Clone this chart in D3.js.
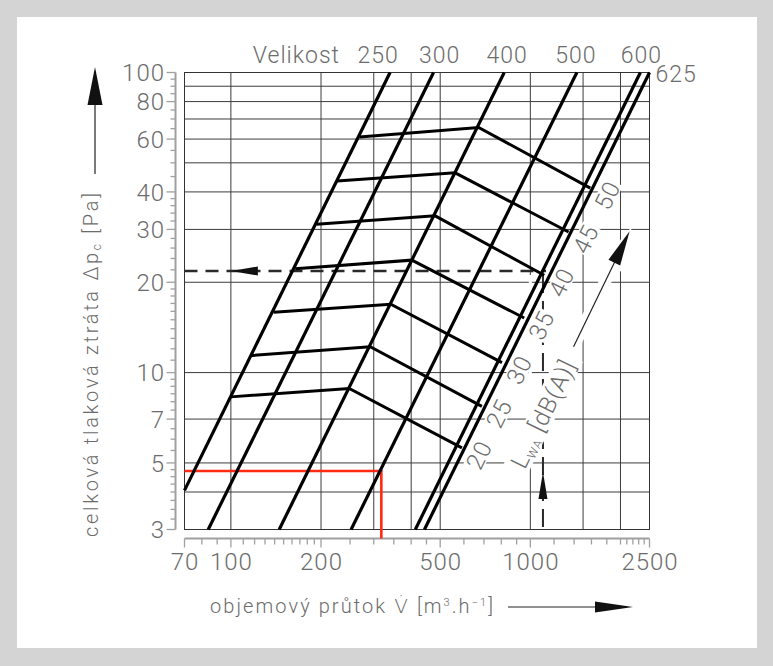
<!DOCTYPE html>
<html>
<head>
<meta charset="utf-8">
<script src="https://cdn.jsdelivr.net/npm/d3@7"></script>
<style>
  html, body { margin: 0; padding: 0; background: #d4d4d4; }
  svg { display: block; }
  text { font-family: Roboto, "DejaVu Sans", sans-serif; font-weight: 300; fill: #6c6c6c; }
</style>
</head>
<body>
<div id="chart-container"></div>
<script>
// size lines (Velikost): [flow m3/h, pressure Pa] at the lower and the upper end
var sizes = ["250", "300", "400", "500", "600", "625"];
var sizeBottom = [[70, 4.05], [84, 3], [145, 3], [252, 3], [413, 3], [443, 3]];
var sizeTop = [[340, 100], [475, 100], [818, 100], [1430, 100], [2330, 100], [2500, 100]];

// noise level curves L_WA [dB(A)]: start, knee, end
var levels = ["50", "45", "40", "35", "30", "25", "20"];
var levelStart = [[269, 61.0], [226, 43.5], [193, 31.2], [164, 22.2], [139, 15.9], [117.5, 11.4], [100, 8.3]];
var levelKnee = [[672, 65.6], [561, 46.3], [481, 33.3], [402, 23.7], [342, 16.9], [292, 12.2], [248.5, 8.85]];
var levelEnd = [[1586, 41.2], [1342, 29.4], [1113, 21.1], [954, 15.2], [804, 10.8], [689, 7.72], [591, 5.61]];

// axes
var xTickLabels = [70, 100, 200, 500, 1000, 2500];
var yTickLabels = [3, 5, 7, 10, 20, 30, 40, 60, 80, 100];
var xGrid = [100, 200, 300, 400, 500, 1000, 1500, 2000];
var yGrid = [4, 5, 7, 10, 20, 30, 40, 50, 60, 70, 80, 90];
// minor tick ranges: [from, to, step]
var xMinor = [[70, 100, 10], [100, 200, 10], [200, 500, 50], [500, 1000, 100], [1000, 2000, 200], [2000, 2500, 100]];
var yMinor = [[3, 5, 0.25], [5, 10, 0.5], [10, 20, 1], [20, 40, 2], [40, 100, 5]];

// worked examples
var exampleFlow = 1102, examplePressure = 21.8, exampleArrowTip = 4.66;
var redFlow = 318, redPressure = 4.7;
// L_WA arrow: tail and tip [flow, pressure]
var lwaTail = [1394, 12.2], lwaTip = [2145, 29.6];

var W = 773, H = 666;

var svg = d3.select("#chart-container")
    .append("svg")
    .attr("width", W)
    .attr("height", H);

svg.append("rect").attr("width", W).attr("height", H).attr("fill", "#d4d4d4");
svg.append("rect").attr("x", 17).attr("y", 17).attr("width", 740).attr("height", 631).attr("fill", "#fff");

var x = d3.scaleLog().domain([70, 2500]).range([184.5, 649.5]);
var y = d3.scaleLog().domain([3, 100]).range([529.5, 72.5]);

function rangeTicks(list) {
    var out = [];
    list.forEach(function (r) {
        d3.range(r[0], r[1] + r[2] / 2, r[2]).forEach(function (v) { out.push(+v.toFixed(3)); });
    });
    return Array.from(new Set(out));
}

// grid
var grid = svg.append("g").attr("stroke", "#3c3c3c").attr("stroke-width", 1);
grid.selectAll(".gx").data(xGrid).enter().append("line")
    .attr("x1", function (d) { return x(d); }).attr("x2", function (d) { return x(d); })
    .attr("y1", y(3)).attr("y2", y(100));
grid.selectAll(".gy").data(yGrid).enter().append("line")
    .attr("y1", function (d) { return y(d); }).attr("y2", function (d) { return y(d); })
    .attr("x1", x(70)).attr("x2", x(2500));
svg.append("rect")
    .attr("x", x(70)).attr("y", y(100))
    .attr("width", x(2500) - x(70)).attr("height", y(3) - y(100))
    .attr("fill", "none").attr("stroke", "#333").attr("stroke-width", 1);

// y axis (separate line left of the plot)
var ax = 175.5;
var yAxis = svg.append("g").attr("stroke", "#a0a0a0");
yAxis.append("line").attr("x1", ax).attr("x2", ax).attr("y1", y(3)).attr("y2", y(100)).attr("stroke-width", 2);
yAxis.selectAll(".t").data(rangeTicks(yMinor)).enter().append("line")
    .attr("x1", ax).attr("x2", function (d) { return yTickLabels.indexOf(d) >= 0 ? ax - 9 : ax - 5; })
    .attr("y1", function (d) { return y(d); }).attr("y2", function (d) { return y(d); })
    .attr("stroke-width", 1.3);
svg.selectAll(".yl").data(yTickLabels).enter().append("text")
    .attr("x", 165).attr("y", function (d) { return y(d); })
    .attr("dy", "0.36em").attr("text-anchor", "end")
    .style("font-size", "24px").style("letter-spacing", "1px")
    .text(function (d) { return d; });

// x axis (separate line below the plot)
var ay = 538.5;
var xAxis = svg.append("g").attr("stroke", "#a0a0a0");
xAxis.append("line").attr("x1", x(70)).attr("x2", x(2500)).attr("y1", ay).attr("y2", ay).attr("stroke-width", 2);
xAxis.selectAll(".t").data(rangeTicks(xMinor)).enter().append("line")
    .attr("y1", ay).attr("y2", function (d) { return xTickLabels.indexOf(d) >= 0 ? ay + 9 : ay + 6; })
    .attr("x1", function (d) { return x(d); }).attr("x2", function (d) { return x(d); })
    .attr("stroke-width", 1.3);
svg.selectAll(".xl").data(xTickLabels).enter().append("text")
    .attr("x", function (d) { return x(d) + 0.5; }).attr("y", 570)
    .attr("text-anchor", "middle")
    .style("font-size", "24px").style("letter-spacing", "1px")
    .text(function (d) { return d; });

// red example
svg.append("path")
    .attr("d", "M" + x(70) + "," + y(redPressure) + "H" + x(redFlow) + "V" + (ay))
    .attr("fill", "none").attr("stroke", "#ff2a12").attr("stroke-width", 2.6);

// dashed example lines
var dash = svg.append("g").attr("stroke", "#2a2a2a").attr("stroke-width", 2.5).attr("fill", "none");
dash.append("line")
    .attr("x1", x(70)).attr("x2", x(exampleFlow) + 3)
    .attr("y1", y(examplePressure)).attr("y2", y(examplePressure))
    .attr("stroke-dasharray", "13,8");
dash.append("line")
    .attr("x1", x(exampleFlow)).attr("x2", x(exampleFlow))
    .attr("y1", y(examplePressure)).attr("y2", y(3))
    .attr("stroke-dasharray", "18,8").attr("stroke-dashoffset", -4).attr("stroke-width", 2);

// arrow heads on the dashed lines
var ah = svg.append("g").attr("fill", "#111");
var hx = x(100), hy = y(examplePressure);
ah.append("path").attr("d", "M" + hx + "," + hy + "L" + (hx + 27) + "," + (hy - 4.5) + "L" + (hx + 27) + "," + (hy + 4.5) + "Z");
var vx = x(exampleFlow), vy = y(exampleArrowTip);
ah.append("path").attr("d", "M" + vx + "," + vy + "L" + (vx - 4.5) + "," + (vy + 27) + "L" + (vx + 4.5) + "," + (vy + 27) + "Z");

// angle of the size lines in pixel space
var ang = Math.atan2(y(sizeTop[5][1]) - y(sizeBottom[5][1]), x(sizeTop[5][0]) - x(sizeBottom[5][0])) * 180 / Math.PI;

// knockouts (white) behind the rotated labels
var ko = svg.append("g").attr("fill", "#fff");
levels.forEach(function (l, i) {
    var cx = x(levelEnd[i][0]) + 17, cy = y(levelEnd[i][1]) + 7;
    ko.append("rect").attr("x", -15).attr("y", -10).attr("width", 30).attr("height", 20)
        .attr("transform", "translate(" + cx + "," + cy + ") rotate(" + ang + ")");
});
var lwaX = x(exampleFlow), lwaY = y(7.3);
ko.append("rect").attr("x", -64).attr("y", -13).attr("width", 128).attr("height", 26)
    .attr("transform", "translate(" + lwaX + "," + lwaY + ") rotate(" + ang + ")");
ko.append("rect").attr("x", x(1000) - 1.5).attr("y", y(examplePressure) + 4)
    .attr("width", 3).attr("height", y(5) - y(examplePressure) - 5);

// L_WA arrow
var tx0 = x(lwaTail[0]), ty0 = y(lwaTail[1]), tx1 = x(lwaTip[0]), ty1 = y(lwaTip[1]);
var len = Math.hypot(tx1 - tx0, ty1 - ty0), ux = (tx1 - tx0) / len, uy = (ty1 - ty0) / len;
svg.append("line").attr("x1", tx0).attr("y1", ty0).attr("x2", tx1 - ux * 20).attr("y2", ty1 - uy * 20)
    .attr("stroke", "#fff").attr("stroke-width", 12);
svg.append("path")
    .attr("d", "M" + (tx1 + ux * 5) + "," + (ty1 + uy * 5) +
        "L" + (tx1 - ux * 40 - uy * 12) + "," + (ty1 - uy * 40 + ux * 12) +
        "L" + (tx1 - ux * 40 + uy * 12) + "," + (ty1 - uy * 40 - ux * 12) + "Z")
    .attr("fill", "#fff");
svg.append("line").attr("x1", tx0).attr("y1", ty0).attr("x2", tx1 - ux * 30).attr("y2", ty1 - uy * 30)
    .attr("stroke", "#222").attr("stroke-width", 1.2);
svg.append("path")
    .attr("d", "M" + tx1 + "," + ty1 +
        "L" + (tx1 - ux * 35 - uy * 6.5) + "," + (ty1 - uy * 35 + ux * 6.5) +
        "L" + (tx1 - ux * 35 + uy * 6.5) + "," + (ty1 - uy * 35 - ux * 6.5) + "Z")
    .attr("fill", "#111");

// size lines
var line = d3.line().x(function (d) { return x(d[0]); }).y(function (d) { return y(d[1]); });
svg.selectAll(".size").data(sizes).enter().append("path")
    .attr("d", function (d, i) { return line([sizeBottom[i], sizeTop[i]]); })
    .attr("fill", "none").attr("stroke", "#000").attr("stroke-width", 3.2);

// noise level curves
svg.selectAll(".lev").data(levels).enter().append("path")
    .attr("d", function (d, i) { return line([levelStart[i], levelKnee[i], levelEnd[i]]); })
    .attr("fill", "none").attr("stroke", "#000").attr("stroke-width", 3).attr("stroke-linejoin", "miter");

// level labels
svg.selectAll(".levl").data(levels).enter().append("text")
    .attr("transform", function (d, i) {
        return "translate(" + (x(levelEnd[i][0]) + 17) + "," + (y(levelEnd[i][1]) + 7) + ") rotate(" + ang + ")";
    })
    .attr("text-anchor", "middle").attr("dy", "0.36em")
    .style("font-size", "24px").style("letter-spacing", "1px")
    .text(function (d) { return d; });

// L_WA [dB(A)] label
var lwa = svg.append("text")
    .attr("transform", "translate(" + lwaX + "," + lwaY + ") rotate(" + ang + ")")
    .attr("text-anchor", "middle").attr("dy", "0.36em")
    .style("font-size", "24px").style("letter-spacing", "1px");
lwa.append("tspan").text("L");
lwa.append("tspan").attr("dy", 4).style("font-size", "12px").text("WA");
lwa.append("tspan").attr("dy", -4).text("\u00a0[dB(A)]");

// size labels on top
var sizeLabelDx = [-12, 6, 3, -1, 1];
svg.append("text").attr("x", 340).attr("y", 62.5).attr("text-anchor", "end")
    .style("font-size", "23px").style("letter-spacing", "1px").text("Velikost");
svg.selectAll(".sl").data(sizes.slice(0, 5)).enter().append("text")
    .attr("x", function (d, i) { return x(sizeTop[i][0]) + sizeLabelDx[i]; })
    .attr("y", 62.5).attr("text-anchor", "middle")
    .style("font-size", "23px").style("letter-spacing", "1px")
    .text(function (d) { return d; });
svg.append("text").attr("x", x(sizeTop[5][0]) + 6).attr("y", 82)
    .style("font-size", "23px").style("letter-spacing", "1px").text(sizes[5]);

// y axis title with arrow
var yt = svg.append("text")
    .attr("transform", "translate(98,537) rotate(-90)")
    .attr("textLength", 344).attr("lengthAdjust", "spacing")
    .style("font-size", "20px");
yt.append("tspan").text("celková  tlaková  ztráta  \u0394p");
yt.append("tspan").attr("dy", 3).style("font-size", "12px").text("c");
yt.append("tspan").attr("dy", -3).text("  [Pa]");
svg.append("line").attr("x1", 95).attr("x2", 95).attr("y1", 174).attr("y2", 100)
    .attr("stroke", "#222").attr("stroke-width", 1.2);
svg.append("path").attr("d", "M95,67L87.5,105L102.5,105Z").attr("fill", "#111");

// x axis title with arrow
var xt = svg.append("text")
    .attr("x", 210).attr("y", 612.5)
    .attr("textLength", 283).attr("lengthAdjust", "spacing")
    .style("font-size", "20px");
xt.append("tspan").text("objemový  průtok  V\u0307  [m");
xt.append("tspan").attr("dy", -7).style("font-size", "11px").text("3");
xt.append("tspan").attr("dy", 7).text(".h");
xt.append("tspan").attr("dy", -7).style("font-size", "11px").text("\u22121");
xt.append("tspan").attr("dy", 7).text("]");
svg.append("line").attr("x1", 508).attr("x2", 600).attr("y1", 607).attr("y2", 607)
    .attr("stroke", "#222").attr("stroke-width", 1.2);
svg.append("path").attr("d", "M633,607L595,601.5L595,612.5Z").attr("fill", "#111");
</script>
</body>
</html>
